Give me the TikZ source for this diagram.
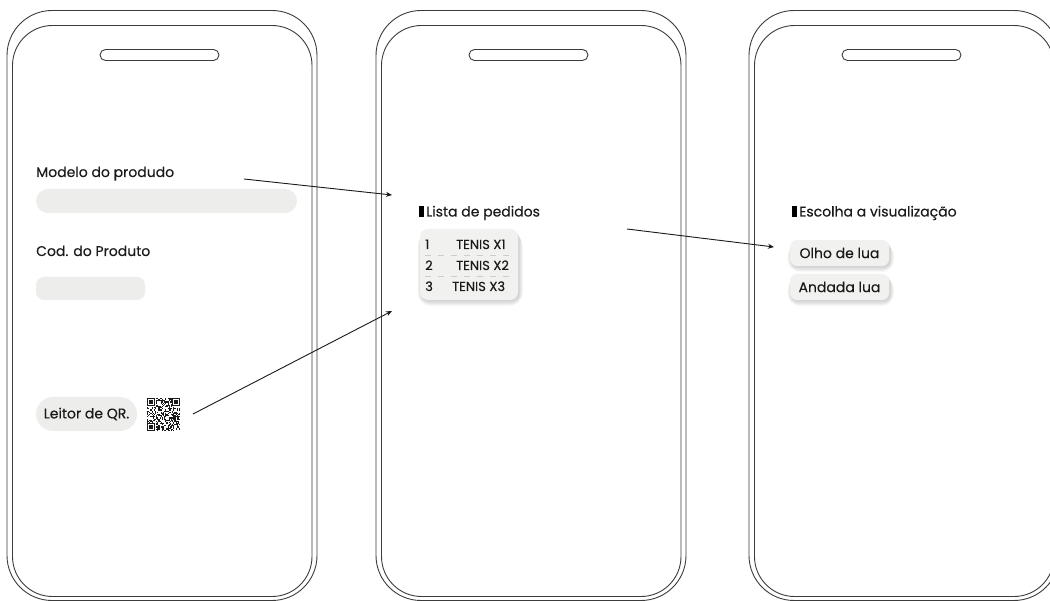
\documentclass[tikz,border=0pt]{standalone}
\usepackage{fontspec}
\setmainfont{Poppins}[UprightFeatures={FakeBold=0.25}]
\usetikzlibrary{arrows.meta}
\definecolor{ink}{RGB}{26,26,26}
\definecolor{frame}{RGB}{60,60,60}
\definecolor{fieldgray}{RGB}{237,237,235}
\definecolor{cardgray}{RGB}{241,241,239}
\tikzset{
  phoneline/.style={draw=frame, line width=0.9pt},
  phone/.pic={
    \draw[phoneline, rounded corners=45pt] (0,0) rectangle (310,590);
    \draw[phoneline, rounded corners=40pt] (5.5,15) rectangle (305,586);
    \draw[phoneline, rounded corners=5.5pt] (93,39) rectangle (212,50);
  },
  lbl/.style={inner sep=0pt, text=ink, font=\fontsize{14}{16}\selectfont},
  rowtxt/.style={inner sep=0pt, text=ink, font=\fontsize{13}{15}\selectfont},
  field/.style={fill=fieldgray, draw=none},
  card/.style={fill=cardgray, draw=none, rounded corners=8pt},
  btn/.style={fill=cardgray, draw=none, rounded corners=7pt, inner sep=0pt,
    minimum width=99pt, minimum height=26pt, text=ink,
    font=\fontsize{14}{16}\selectfont},
  pill/.style={fill=fieldgray, draw=none, rounded corners=17pt, inner sep=0pt,
    minimum width=101pt, minimum height=34pt, text=ink,
    font=\fontsize{14}{16}\selectfont},
  shadowlayer/.style={fill=black, opacity=0.022, draw=none},
  dashrule/.style={draw=black!20, line width=0.7pt, dash pattern=on 6pt off 7pt},
  conn/.style={draw=ink, line width=0.9pt, -{Stealth[length=6pt,width=5pt]}},
  marker/.style={fill=black, draw=none},
}
% soft drop shadow under a rounded box: x1, y1, x2, y2, corner radius
\newcommand\dropshade[5]{%
  \foreach \k in {0,...,6}{%
    \fill[shadowlayer, rounded corners={(#5+\k)*1pt}]
      ({#1-\k*0.6+1},{#2+\k*0.5+1}) rectangle ({#3+\k*0.6+1.5},{#4+\k*0.8+1.5});
  }%
}
\begin{document}
\begin{tikzpicture}[x=1pt,y=-1pt]
\useasboundingbox (0,0) rectangle (1050,601);
\fill[white] (0,0) rectangle (1050,601);

% three phone outlines
\begin{scope}
  \clip (0,0) rectangle (1050,601);
  \pic at (7,10.5) {phone};
  \pic at (376,10.5) {phone};
  \pic at (749,10.5) {phone};
\end{scope}

% ---- screen 1: product form ----
\node[lbl, anchor=base west] (modelo) at (36,177) {Modelo do produdo};
\fill[field, rounded corners=12pt] (36,189) rectangle (297,213);
\node[lbl, anchor=base west] (cod) at (36,256) {Cod. do Produto};
\fill[field, rounded corners=8pt] (36,277) rectangle (145,300);
\node[pill] (leitor) at (86.5,414) {Leitor de QR.};

% QR code
\begin{scope}[shift={(147,398)}]
  \pgfmathsetseed{1234}
  \foreach \i in {0,...,28}{
    \foreach \j in {0,...,28}{
      \pgfmathtruncatemacro\bit{rnd<0.5}
      \ifnum\bit=1
        \fill[ink] (\i*1.14,\j*1.14) rectangle ++(1.14,1.14);
      \fi
    }
  }
  \foreach \cx/\cy in {0/0, 22/0, 0/22}{
    \fill[white] ({(\cx-0.5)*1.14},{(\cy-0.5)*1.14}) rectangle ++(8*1.14,8*1.14);
    \fill[ink] (\cx*1.14,\cy*1.14) rectangle ++(7*1.14,7*1.14);
    \fill[white] ({(\cx+1)*1.14},{(\cy+1)*1.14}) rectangle ++(5*1.14,5*1.14);
    \fill[ink] ({(\cx+2)*1.14},{(\cy+2)*1.14}) rectangle ++(3*1.14,3*1.14);
  }
  \node[inner sep=0pt, minimum size=33pt, anchor=north west] (qr) at (0,0) {};
\end{scope}

% ---- screen 2: order list ----
\fill[marker] (419,206.5) rectangle (423.5,217);
\node[lbl, anchor=base west] (lista) at (426,216.5) {Lista de pedidos};
\dropshade{420}{229}{518}{300}{8}
\path[card] (420,229) rectangle (518,300);
\node[rowtxt, anchor=base west] (n1) at (425,249) {1};
\node[rowtxt, anchor=base west] (t1) at (456,249) {TENIS X1};
\node[rowtxt, anchor=base west] (n2) at (425,270) {2};
\node[rowtxt, anchor=base west] (t2) at (456,270) {TENIS X2};
\node[rowtxt, anchor=base west] (n3) at (425,291) {3};
\node[rowtxt, anchor=base west] (t3) at (452,291) {TENIS X3};
\draw[dashrule] (425,255) -- (515,255);
\draw[dashrule] (425,276) -- (515,276);

% ---- screen 3: view choice ----
\fill[marker] (792,206.5) rectangle (796.5,217);
\node[lbl, anchor=base west] (escolha) at (799,216.5) {Escolha a visualização};
\dropshade{790}{240}{889}{266}{7}
\dropshade{790}{274}{889}{300}{7}
\node[btn] (olho) at (839.5,253) {Olho de lua};
\node[btn] (andada) at (839.5,287) {Andada lua};

% ---- flow arrows ----
\coordinate (a1s) at (244,179);
\coordinate (a1e) at (392,195);
\coordinate (a2s) at (193,414);
\coordinate (a2e) at (392,311);
\coordinate (a3s) at (627,229);
\coordinate (a3e) at (774,247);
\draw[conn] (a1s) -- (a1e);
\draw[conn] (a2s) -- (a2e);
\draw[conn] (a3s) -- (a3e);
\end{tikzpicture}
\end{document}
